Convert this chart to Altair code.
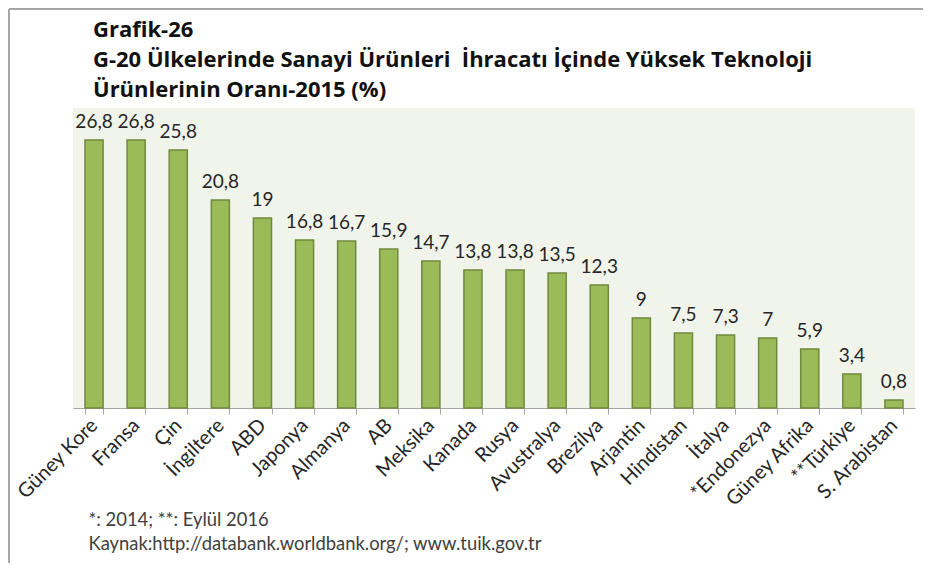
import altair as alt
import pandas as pd

countries = ["Güney Kore", "Fransa", "Çin", "İngiltere", "ABD", "Japonya", "Almanya", "AB",
             "Meksika", "Kanada", "Rusya", "Avustralya", "Brezilya", "Arjantin", "Hindistan",
             "İtalya", "*Endonezya", "Güney Afrika", "**Türkiye", "S. Arabistan"]
values = [26.8, 26.8, 25.8, 20.8, 19, 16.8, 16.7, 15.9, 14.7, 13.8, 13.8, 13.5, 12.3,
          9, 7.5, 7.3, 7, 5.9, 3.4, 0.8]
title_lines = ["Grafik-26",
               "G-20 Ülkelerinde Sanayi Ürünleri \u00a0İhracatı İçinde Yüksek Teknoloji",
               "Ürünlerinin Oranı-2015 (%)"]
footnotes = ["*: 2014; **: Eylül 2016",
             "Kaynak:http://databank.worldbank.org/; www.tuik.gov.tr"]

df = pd.DataFrame({"country": countries, "value": values})
df["label"] = [f"{v:g}".replace(".", ",") for v in values]

FONT = "Lato"

x_enc = alt.X(
    "country:N", sort=None,
    scale=alt.Scale(paddingInner=0.57, paddingOuter=0.285),
    axis=alt.Axis(
        labelAngle=-45, labelFont=FONT, labelFontSize=20, labelColor="#262626",
        labelPadding=8, labelBaseline="middle", labelAlign="right",
        domainColor="#a6a6a6", tickColor="#a6a6a6", tickSize=6, tickBand="extent",
        title=footnotes, titleX=15, titleY=102, titleAlign="left", titleAngle=0,
        titleBaseline="top", titleLineHeight=24, titleFont=FONT, titleFontSize=18.4,
        titleFontWeight="normal", titleColor="#404040",
    ),
)
y_enc = alt.Y("value:Q", scale=alt.Scale(domain=[0, 30]), axis=None)

base = alt.Chart(df).encode(x=x_enc, y=y_enc)
bars = base.mark_bar(color="#9bbb59", stroke="#71893e", strokeWidth=1.5)
labels = base.mark_text(dy=-8, baseline="bottom", font=FONT, fontSize=19,
                        color="#262626").encode(text="label:N")

frame_df = pd.DataFrame({"k": [0]})
frame_left = alt.Chart(frame_df).mark_rule(color="#a6a6a6", strokeWidth=2).encode(
    x=alt.value(-64), y=alt.value(-99), y2=alt.value(460))
frame_top = alt.Chart(frame_df).mark_rule(color="#a6a6a6", strokeWidth=2).encode(
    x=alt.value(-64), x2=alt.value(850), y=alt.value(-99))

chart = alt.layer(bars, labels, frame_left, frame_top).properties(
    width=842, height=300,
    padding={"left": 65, "top": 100, "right": 10, "bottom": 155},
    autosize=alt.AutoSizeParams(type="none"),
    title=alt.TitleParams(
        text=title_lines, anchor="start", frame="group", dx=20, offset=-94,
        font="Open Sans", fontSize=22, fontWeight="bold", lineHeight=30, color="#111111",
    ),
).configure_view(fill="#f1f4eb", strokeWidth=0)

chart.save("out.html", embed_options={"renderer": "svg", "actions": False})
